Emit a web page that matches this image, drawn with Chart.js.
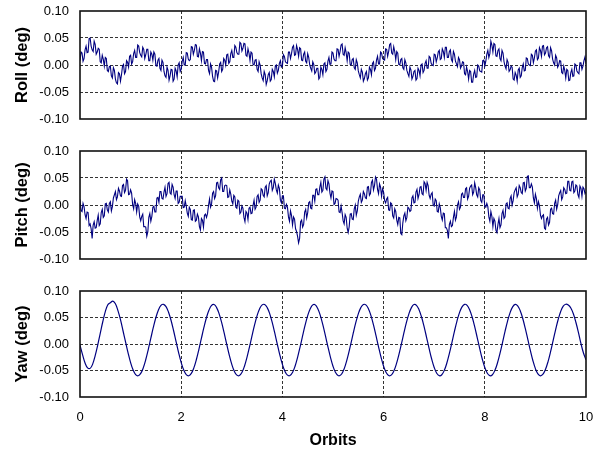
<!DOCTYPE html>
<html><head><meta charset="utf-8">
<script src="https://cdn.jsdelivr.net/npm/chart.js@4.4.1/dist/chart.umd.min.js"></script>
<style>
html,body{margin:0;padding:0;background:#fff;}
#wrap{position:relative;width:599px;height:455px;overflow:hidden;background:#fff;}
canvas{position:absolute;left:0;}
</style></head><body>
<div id="wrap">
<canvas id="c1" width="599" height="130" style="top:0px;width:599px;height:130px"></canvas>
<canvas id="c2" width="599" height="130" style="top:140px;width:599px;height:130px"></canvas>
<canvas id="c3" width="599" height="175" style="top:280px;width:599px;height:175px"></canvas>
</div>
<script>
// ---- sample grids (orbits) ----
const orbitsNoisy = Array.from({length: 501}, (_, i) => +(i * 0.02).toFixed(2));
const orbitsYaw = Array.from({length: 201}, (_, i) => +(i * 0.05).toFixed(2));

// ---- axis ticks / titles ----
const xTickValues = [0, 2, 4, 6, 8, 10];
const yTickValues = [-0.10, -0.05, 0.00, 0.05, 0.10];
const panelTitles = ['Roll (deg)', 'Pitch (deg)', 'Yaw (deg)'];
const xTitle = 'Orbits';

// ---- series values (deg) ----
const roll = [
0.008,0.024,0.022,0.007,0.012,0.028,0.035,0.023,0.024,0.049,0.050,0.035,0.028,0.025,0.044,0.038,0.020,0.024,0.031,0.029,
0.006,0.004,0.018,0.011,-0.002,0.014,0.012,-0.010,-0.012,-0.003,-0.002,-0.020,-0.024,-0.005,-0.010,-0.026,-0.033,-0.035,-0.014,-0.016,
-0.030,-0.018,-0.002,0.001,-0.016,-0.012,0.008,0.005,-0.004,0.016,0.018,0.002,0.006,0.021,0.027,0.014,0.014,0.037,0.035,0.023,
0.018,0.015,0.033,0.029,0.012,0.019,0.029,0.029,0.008,0.008,0.024,0.020,0.009,0.024,0.020,-0.001,-0.002,0.009,0.012,-0.006,
-0.010,0.009,0.005,-0.012,-0.020,-0.023,-0.004,-0.010,-0.028,-0.020,-0.008,-0.009,-0.030,-0.026,-0.006,-0.011,-0.022,0.000,0.004,-0.012,
-0.008,0.007,0.014,0.000,0.000,0.023,0.022,0.011,0.008,0.010,0.034,0.033,0.020,0.027,0.038,0.037,0.016,0.015,0.030,0.022,
0.008,0.025,0.024,0.003,0.002,0.010,0.010,-0.010,-0.016,0.002,-0.004,-0.021,-0.030,-0.031,-0.010,-0.011,-0.024,-0.013,0.002,0.005,
-0.012,-0.008,0.012,0.009,0.000,0.019,0.020,0.003,0.006,0.021,0.027,0.014,0.014,0.036,0.033,0.023,0.020,0.020,0.042,0.040,
0.026,0.031,0.040,0.039,0.018,0.016,0.030,0.022,0.008,0.024,0.022,0.001,0.000,0.009,0.010,-0.008,-0.012,0.006,0.000,-0.016,
-0.024,-0.029,-0.012,-0.018,-0.036,-0.029,-0.018,-0.014,-0.030,-0.027,-0.008,-0.012,-0.022,-0.002,0.000,-0.015,-0.010,0.003,0.008,-0.004,
-0.002,0.019,0.016,0.006,0.004,0.003,0.024,0.024,0.012,0.021,0.033,0.036,0.018,0.019,0.036,0.029,0.016,0.032,0.030,0.009,
0.008,0.020,0.024,0.007,0.004,0.021,0.014,0.000,-0.006,-0.011,0.006,0.001,-0.016,-0.013,-0.006,-0.006,-0.026,-0.023,-0.004,-0.008,
-0.018,0.002,0.004,-0.012,-0.008,0.007,0.014,0.001,0.002,0.024,0.022,0.011,0.008,0.008,0.030,0.029,0.016,0.025,0.037,0.039,
0.020,0.018,0.032,0.023,0.008,0.024,0.022,0.001,0.000,0.010,0.012,-0.005,-0.008,0.010,0.004,-0.011,-0.018,-0.024,-0.008,-0.013,
-0.030,-0.025,-0.016,-0.012,-0.028,-0.024,-0.004,-0.008,-0.018,0.003,0.006,-0.010,-0.006,0.009,0.016,0.002,0.002,0.024,0.022,0.012,
0.010,0.009,0.030,0.029,0.016,0.025,0.038,0.040,0.022,0.020,0.034,0.025,0.010,0.025,0.022,0.001,0.000,0.010,0.012,-0.005,
-0.008,0.010,0.004,-0.010,-0.016,-0.021,-0.004,-0.009,-0.026,-0.021,-0.012,-0.010,-0.028,-0.025,-0.006,-0.010,-0.020,0.000,0.002,-0.014,
-0.010,0.003,0.008,-0.006,-0.006,0.016,0.014,0.003,0.000,-0.001,0.020,0.019,0.006,0.013,0.024,0.027,0.010,0.012,0.030,0.025,
0.014,0.033,0.033,0.014,0.014,0.025,0.028,0.010,0.006,0.025,0.020,0.007,0.002,-0.003,0.014,0.010,-0.006,-0.002,0.006,0.005,
-0.016,-0.018,-0.004,-0.012,-0.026,-0.010,-0.012,-0.032,-0.032,-0.017,-0.010,-0.023,-0.022,0.000,-0.002,-0.011,-0.012,-0.013,0.008,0.009,
-0.002,0.007,0.020,0.027,0.014,0.021,0.044,0.037,0.024,0.040,0.038,0.017,0.016,0.027,0.030,0.012,0.008,0.027,0.022,0.006,
-0.002,-0.007,0.010,0.005,-0.012,-0.009,-0.002,-0.004,-0.026,-0.028,-0.014,-0.019,-0.030,-0.009,-0.006,-0.023,-0.020,-0.005,0.002,-0.011,
-0.010,0.013,0.012,0.002,0.000,-0.001,0.020,0.018,0.004,0.013,0.026,0.028,0.010,0.013,0.032,0.027,0.016,0.035,0.036,0.019,
0.022,0.032,0.034,0.017,0.014,0.032,0.026,0.011,0.004,0.000,0.018,0.013,-0.004,0.000,0.008,0.007,-0.014,-0.016,-0.002,-0.010,
-0.024,-0.008,-0.010,-0.029,-0.028,-0.014,-0.008,-0.021,-0.020,0.002,0.000,-0.011,-0.014,-0.016,0.004,0.004,-0.008,-0.002,0.008,0.015,
0.002
];
const pitch = [
0.010,-0.010,-0.012,0.003,-0.003,-0.018,-0.025,-0.013,-0.014,-0.038,-0.035,-0.044,-0.062,-0.037,-0.031,-0.043,-0.042,-0.029,-0.019,-0.038,
-0.035,-0.014,-0.008,-0.023,-0.020,0.002,0.003,-0.009,-0.013,0.003,0.006,-0.011,-0.003,0.013,0.019,0.025,0.010,0.015,0.031,0.026,
0.017,0.016,0.036,0.038,0.023,0.027,0.048,0.045,0.019,0.020,0.028,0.022,0.001,-0.007,0.010,0.003,-0.013,0.002,-0.002,-0.022,
-0.029,-0.021,-0.017,-0.040,-0.040,-0.041,-0.058,-0.050,-0.023,-0.016,-0.030,-0.021,-0.004,-0.002,-0.013,-0.013,0.013,0.014,0.005,0.025,
0.025,0.012,0.011,0.024,0.033,0.016,0.021,0.040,0.042,0.022,0.020,0.038,0.033,0.019,0.012,0.026,0.026,0.003,0.005,0.016,
0.016,0.016,-0.005,-0.004,0.008,-0.002,-0.015,-0.021,-0.004,-0.008,-0.027,-0.028,-0.010,-0.009,-0.030,-0.028,-0.017,-0.022,-0.040,-0.046,
-0.025,-0.028,-0.041,-0.019,-0.017,-0.023,-0.016,-0.001,0.011,-0.004,0.002,0.022,0.025,0.012,0.017,0.041,0.042,0.032,0.029,0.047,
0.050,0.025,0.025,0.036,0.037,0.036,0.014,0.015,0.028,0.020,0.007,0.002,0.018,0.015,-0.004,-0.006,0.009,0.007,-0.016,-0.013,
-0.002,-0.006,-0.023,-0.031,-0.012,-0.015,-0.027,-0.006,-0.004,-0.016,-0.015,-0.001,0.009,-0.008,-0.004,0.016,0.019,0.005,0.009,0.030,
0.028,0.018,0.015,0.033,0.036,0.017,0.023,0.039,0.044,0.046,0.027,0.032,0.048,0.040,0.028,0.022,0.037,0.031,0.009,0.004,
0.017,0.017,-0.006,-0.007,0.001,-0.004,-0.022,-0.030,-0.011,-0.019,-0.037,-0.022,-0.026,-0.044,-0.049,-0.058,-0.070,-0.062,-0.031,-0.028,
-0.041,-0.036,-0.013,-0.008,-0.024,-0.014,0.004,0.006,-0.006,-0.007,0.018,0.018,0.007,0.029,0.030,0.019,0.019,0.033,0.042,0.024,
0.027,0.048,0.052,0.031,0.028,0.045,0.039,0.022,0.013,0.026,0.025,0.001,0.003,0.012,0.011,0.009,-0.013,-0.014,-0.002,-0.014,
-0.029,-0.035,-0.018,-0.023,-0.043,-0.051,-0.040,-0.017,-0.016,-0.026,-0.027,-0.007,0.000,-0.019,-0.011,0.007,0.015,0.020,0.005,0.009,
0.025,0.021,0.013,0.012,0.033,0.034,0.018,0.021,0.042,0.046,0.028,0.036,0.052,0.048,0.029,0.021,0.039,0.033,0.016,0.030,
0.024,0.008,0.004,0.011,0.014,-0.009,-0.010,0.004,0.002,-0.020,-0.024,-0.007,-0.012,-0.028,-0.036,-0.023,-0.024,-0.053,-0.055,-0.033,
-0.020,-0.015,-0.029,-0.023,-0.004,-0.006,-0.012,-0.010,0.013,0.017,0.004,0.005,0.024,0.029,0.012,0.019,0.033,0.034,0.021,0.019,
0.043,0.040,0.027,0.042,0.036,0.018,0.012,0.020,0.023,0.000,-0.002,0.011,0.008,-0.012,-0.013,0.002,-0.005,-0.021,-0.028,-0.015,
-0.016,-0.042,-0.042,-0.047,-0.062,-0.036,-0.030,-0.040,-0.038,-0.023,-0.012,-0.028,-0.022,0.000,0.006,-0.008,-0.004,0.020,0.022,0.014,
0.014,0.030,0.032,0.011,0.016,0.031,0.035,0.037,0.019,0.024,0.041,0.032,0.019,0.015,0.032,0.028,0.008,0.005,0.019,0.019,
-0.003,-0.004,0.003,-0.003,-0.022,-0.030,-0.012,-0.021,-0.040,-0.025,-0.030,-0.047,-0.051,-0.036,-0.025,-0.042,-0.037,-0.016,-0.010,-0.025,
-0.022,0.002,0.004,-0.006,-0.007,0.012,0.017,0.000,0.008,0.023,0.028,0.032,0.015,0.020,0.036,0.032,0.023,0.021,0.041,0.042,
0.026,0.031,0.053,0.054,0.032,0.032,0.039,0.033,0.013,0.004,0.020,0.012,-0.006,0.006,-0.001,-0.019,-0.025,-0.020,-0.018,-0.043,
-0.045,-0.026,-0.023,-0.037,-0.032,-0.008,-0.006,-0.016,-0.017,0.003,0.009,-0.008,0.000,0.017,0.023,0.027,0.010,0.015,0.032,0.029,
0.021,0.022,0.044,0.044,0.027,0.026,0.043,0.044,0.023,0.026,0.037,0.035,0.019,0.014,0.035,0.031,0.016,0.033,0.030,0.021,
0.024
];
const yaw = [
-0.002,-0.020,-0.036,-0.045,-0.046,-0.038,-0.022,-0.002,0.020,0.042,0.061,0.074,0.078,
0.081,0.076,0.063,0.046,0.025,0.004,-0.0167,-0.035,-0.0491,-0.0577,-0.0599,-0.0555,-0.045,-0.0293,-0.010,0.011,0.0317,0.050,0.0641,0.0727,
0.0749,0.0705,0.060,0.0443,0.025,0.004,-0.0167,-0.035,-0.0491,-0.0577,-0.0599,-0.0555,-0.045,-0.0293,-0.010,0.011,0.0317,0.050,0.0641,0.0727,
0.0745,0.0687,0.0569,0.0402,0.0204,-0.0007,-0.021,-0.0385,-0.0515,-0.0588,-0.0595,-0.0537,-0.0419,-0.0252,-0.0054,0.0157,0.036,0.0535,0.0665,0.0738,
0.0745,0.0687,0.0569,0.0402,0.0204,-0.0007,-0.021,-0.0385,-0.0515,-0.0588,-0.0595,-0.0537,-0.0419,-0.0252,-0.0054,0.0157,0.036,0.0535,0.0665,0.0738,
0.0738,0.0665,0.0535,0.036,0.0157,-0.0054,-0.0252,-0.0419,-0.0537,-0.0595,-0.0588,-0.0515,-0.0385,-0.021,-0.0007,0.0204,0.0402,0.0569,0.0687,0.0745,
0.0738,0.0665,0.0535,0.036,0.0157,-0.0054,-0.0252,-0.0419,-0.0537,-0.0595,-0.0588,-0.0515,-0.0385,-0.021,-0.0007,0.0204,0.0402,0.0569,0.0687,0.0745,
0.073,0.0647,0.0509,0.0328,0.0122,-0.0088,-0.0283,-0.0442,-0.0551,-0.0598,-0.058,-0.0497,-0.0359,-0.0178,0.0028,0.0238,0.0433,0.0592,0.0701,0.0748,
0.073,0.0647,0.0509,0.0328,0.0122,-0.0088,-0.0283,-0.0442,-0.0551,-0.0598,-0.058,-0.0497,-0.0359,-0.0178,0.0028,0.0238,0.0433,0.0592,0.0701,0.0748,
0.072,0.0628,0.0481,0.0295,0.0087,-0.0122,-0.0312,-0.0464,-0.0563,-0.060,-0.057,-0.0478,-0.0331,-0.0145,0.0063,0.0272,0.0462,0.0614,0.0713,0.075,
0.0735,0.068,0.057,0.041,0.022,0.001,-0.017,-0.030
];

const FONT = 'Arial, "Liberation Sans", sans-serif';
Chart.defaults.font.family = FONT;
Chart.defaults.color = '#000';

const framePlugin = {
  id: 'frame',
  afterDraw(chart) {
    const {ctx, chartArea: a} = chart;
    ctx.save();
    ctx.strokeStyle = '#111';
    ctx.lineWidth = 1.6;
    ctx.strokeRect(a.left, a.top, a.right - a.left, a.bottom - a.top);
    ctx.restore();
  }
};

function makePanel(id, xs, ys, yTitle, showX, tension, width) {
  const lastX = xTickValues[xTickValues.length - 1];
  const yMin = yTickValues[0], yMax = yTickValues[yTickValues.length - 1];
  new Chart(document.getElementById(id), {
    type: 'line',
    data: {
      datasets: [{
        data: xs.map((x, i) => ({x: x, y: ys[i]})),
        borderColor: '#000080',
        borderWidth: width,
        pointRadius: 0,
        tension: tension,
        fill: false
      }]
    },
    options: {
      responsive: false,
      animation: false,
      devicePixelRatio: 1,
      layout: {padding: {left: 0, right: 13, top: 11, bottom: showX ? 0 : 11}},
      plugins: {legend: {display: false}, tooltip: {enabled: false}},
      scales: {
        x: {
          type: 'linear',
          min: xTickValues[0], max: lastX,
          afterBuildTicks: s => { s.ticks = xTickValues.map(v => ({value: v})); },
          border: {display: false, dash: [3, 2]},
          grid: {
            drawTicks: false,
            color: c => (c.tick && (c.tick.value === xTickValues[0] || c.tick.value === lastX)) ? 'rgba(0,0,0,0)' : '#333',
            lineWidth: 1
          },
          ticks: {display: showX, padding: 13, font: {size: 13}, color: '#000', callback: v => String(v)},
          title: {display: showX, text: xTitle, font: {size: 16, weight: 'bold'}, color: '#000', padding: {top: 0, bottom: 5}},
          afterFit: s => { s.height = showX ? 58 : 0; s.paddingLeft = 0; s.paddingRight = 0; }
        },
        y: {
          min: yMin, max: yMax,
          afterBuildTicks: s => { s.ticks = yTickValues.map(v => ({value: v})); },
          border: {display: false, dash: [3, 2]},
          grid: {
            drawTicks: false,
            color: c => (c.tick && Math.abs(c.tick.value) > 0.099) ? 'rgba(0,0,0,0)' : '#333',
            lineWidth: 1
          },
          ticks: {padding: 11, font: {size: 13}, color: '#000',
            callback: v => Math.abs(v) < 1e-9 ? '0.00' : Number(v).toFixed(2)},
          title: {display: true, text: yTitle, font: {size: 16.5, weight: 'bold'}, color: '#000', padding: {top: 13, bottom: 0}},
          afterFit: s => { s.width = 80; s.paddingTop = 0; s.paddingBottom = 0; }
        }
      }
    },
    plugins: [framePlugin]
  });
}

makePanel('c1', orbitsNoisy, roll, panelTitles[0], false, 0, 1.1);
makePanel('c2', orbitsNoisy, pitch, panelTitles[1], false, 0, 1.1);
makePanel('c3', orbitsYaw, yaw, panelTitles[2], true, 0.4, 1.2);
</script>
</body></html>
